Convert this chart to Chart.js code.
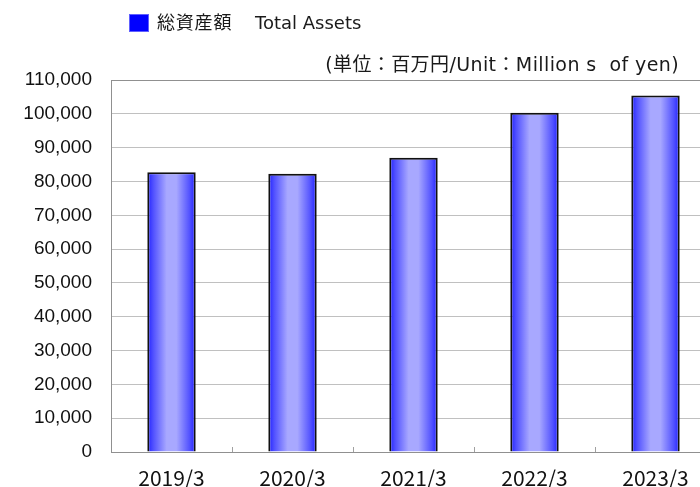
<!DOCTYPE html>
<html>
<head>
<meta charset="utf-8">
<script src="https://cdn.jsdelivr.net/npm/chart.js@4.4.0/dist/chart.umd.min.js"></script>
<style>
    html, body { margin: 0; padding: 0; background: #fff; overflow: hidden; }
    #wrap { position: relative; width: 700px; height: 487px; overflow: hidden; }
    #legend { position: absolute; left: 129px; top: 12px; font-family: "DejaVu Sans", "Noto Sans CJK JP", sans-serif; font-size: 18px; color: #1a1a1a; line-height: 22px; white-space: pre; }
    #legend .box { display: inline-block; width: 20px; height: 18px; background: #0000ff; border: 1px solid #6060ff; box-sizing: border-box; vertical-align: -3px; margin-right: 8px; }
    #legend .jp { letter-spacing: 0.8px; }
    #legend .en { margin-left: 4px; }
    #unit { position: absolute; right: 21px; top: 52px; font-family: "DejaVu Sans", "Noto Sans CJK JP", sans-serif; font-size: 19px; letter-spacing: 0.4px; color: #1a1a1a; white-space: pre; line-height: 24px; }
    canvas { position: absolute; left: 0; top: 0; }
</style>
</head>
<body>
<div id="wrap">
    <canvas id="c" width="730" height="487"></canvas>
    <div id="legend"><span class="box"></span><span class="jp">総資産額　</span><span class="en">Total Assets</span></div>
    <div id="unit">(単位：百万円/Unit：Million s  of yen)</div>
</div>
<script>
// data
const categories = ['2019/3', '2020/3', '2021/3', '2022/3', '2023/3'];
const totalAssets = [82700, 82300, 87000, 100300, 105400];
const yTicks = [0, 10000, 20000, 30000, 40000, 50000, 60000, 70000, 80000, 90000, 100000, 110000];

// cylinder-like horizontal gradient on each bar
const barGradient = {
    id: 'barGradient',
    beforeDatasetsDraw(chart) {
        const ctx = chart.ctx;
        chart.getDatasetMeta(0).data.forEach(bar => {
            const left = bar.x - bar.width / 2;
            const g = ctx.createLinearGradient(left, 0, left + bar.width, 0);
            g.addColorStop(0, '#2020ff');
            g.addColorStop(0.12, '#5050ff');
            g.addColorStop(0.4, '#a8a8ff');
            g.addColorStop(0.6, '#a8a8ff');
            g.addColorStop(0.88, '#5050ff');
            g.addColorStop(1, '#2020ff');
            // options are shared between bars, so give each bar its own copy
            bar.options = Object.assign({}, bar.options, { backgroundColor: g });
        });
    }
};

// small tick marks between categories, pointing up into the plot
const innerTicks = {
    id: 'innerTicks',
    afterDraw(chart) {
        const x = chart.scales.x;
        const ctx = chart.ctx;
        const bottom = chart.chartArea.bottom;
        const step = x.getPixelForTick(1) - x.getPixelForTick(0);
        ctx.save();
        ctx.strokeStyle = '#a0a0a0';
        ctx.lineWidth = 1;
        for (let i = 0; i < categories.length; i++) {
            const px = Math.round(x.getPixelForTick(i) + step / 2) + 0.5;
            ctx.beginPath();
            ctx.moveTo(px, bottom);
            ctx.lineTo(px, bottom - 5);
            ctx.stroke();
        }
        ctx.restore();
    }
};

new Chart(document.getElementById('c'), {
    type: 'bar',
    data: {
        labels: categories,
        datasets: [{
            label: '総資産額　Total Assets',
            data: totalAssets,
            backgroundColor: '#8080ff',
            borderColor: '#111111',
            borderWidth: 2,
            borderSkipped: 'bottom',
            categoryPercentage: 0.8,
            barPercentage: 0.5
        }]
    },
    options: {
        responsive: false,
        animation: false,
        layout: { padding: { top: 80, left: 0, right: 14, bottom: 0 } },
        plugins: {
            legend: { display: false },
            tooltip: { enabled: false }
        },
        scales: {
            x: {
                afterFit: s => { s.height = 35; },
                grid: { display: false, drawTicks: false },
                border: { display: true, color: '#909090', width: 1 },
                ticks: {
                    color: '#111111',
                    padding: 13,
                    font: { family: '"Noto Sans CJK JP", sans-serif', size: 21 }
                }
            },
            y: {
                min: 0,
                max: 110000,
                afterFit: s => { s.width = 111; },
                afterBuildTicks: s => { s.ticks = yTicks.map(v => ({ value: v })); },
                grid: {
                    color: c => (c.tick && c.tick.value === 110000 ? '#909090' : '#c0c0c0'),
                    lineWidth: 1,
                    drawTicks: false
                },
                border: { display: true, color: '#909090', width: 1 },
                ticks: {
                    color: '#111111',
                    padding: 19,
                    font: { family: '"Liberation Sans", Arial, sans-serif', size: 19 },
                    callback: v => v.toLocaleString('en-US')
                }
            }
        }
    },
    plugins: [barGradient, innerTicks]
});
</script>
</body>
</html>
